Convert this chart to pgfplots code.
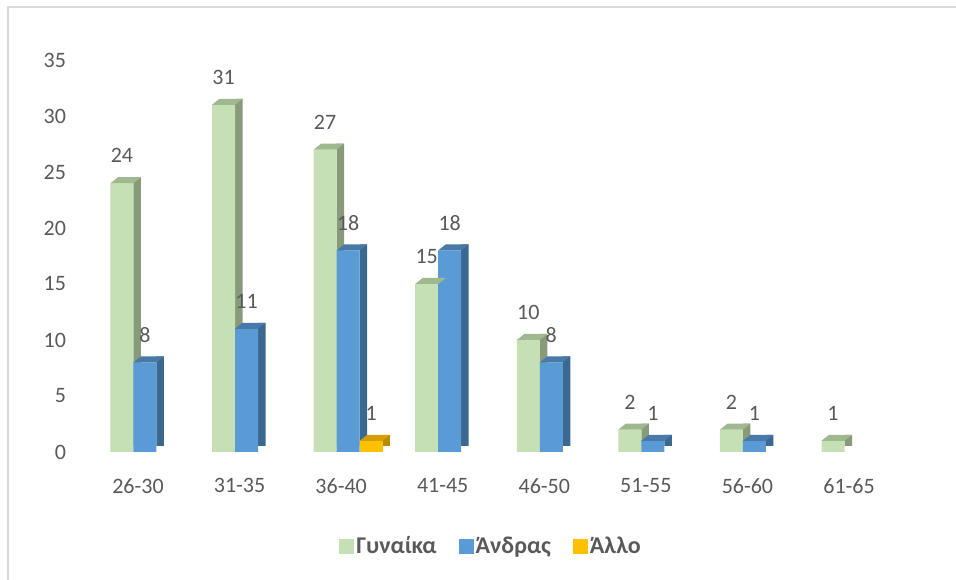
\documentclass[border=0pt]{standalone}
\usepackage{fontspec}
\setmainfont{Carlito}
\usepackage{pgfplots}
\pgfplotsset{compat=1.18}

\definecolor{textgray}{HTML}{595959}
\definecolor{framegray}{HTML}{D9D9D9}
\definecolor{greenfront}{HTML}{C5E0B4}
\definecolor{greenside}{HTML}{879A79}
\definecolor{greentop}{HTML}{A0B88F}
\definecolor{bluefront}{HTML}{5B9BD5}
\definecolor{blueside}{HTML}{3B6891}
\definecolor{bluetop}{HTML}{4879A8}
\definecolor{goldfront}{HTML}{FFC000}
\definecolor{goldside}{HTML}{B88A00}
\definecolor{goldtop}{HTML}{D29E00}

% top face of a pseudo-3D column (front width 23pt, depth 7.5pt x 6pt)
\pgfdeclareplotmark{topface}{%
  \pgfpathmoveto{\pgfpoint{-11.5pt}{0pt}}%
  \pgfpathlineto{\pgfpoint{11.5pt}{0pt}}%
  \pgfpathlineto{\pgfpoint{19pt}{6pt}}%
  \pgfpathlineto{\pgfpoint{-4pt}{6pt}}%
  \pgfpathclose
  \pgfusepathqfill
}

\begin{document}
\begin{tikzpicture}
\path[use as bounding box] (0pt,0pt) rectangle (956pt,580pt);
\draw[framegray, line width=1.5pt] (8pt,0pt) -- (8pt,573pt) -- (956pt,573pt);

\begin{axis}[
  at={(87.2pt,128pt)}, anchor=south west,
  scale only axis, width=812.6pt, height=392pt,
  xmin=-0.5, xmax=7.5, ymin=0, ymax=35,
  clip=false,
  axis line style={draw=none},
  major tick length=0pt,
  xtick={0,...,7},
  xticklabels={26-30,31-35,36-40,41-45,46-50,51-55,56-60,61-65},
  ytick={0,5,...,35},
  /pgf/number format/assume math mode=true,
  tick label style={font=\fontsize{22}{26}\selectfont, text=textgray},
  yticklabel style={anchor=east, inner sep=0pt, xshift=-21pt},
  xticklabel style={anchor=north, inner sep=0pt, yshift=-26pt},
  every node near coord/.append style={font=\fontsize{22}{26}\selectfont,
    text=textgray, anchor=south, inner sep=0pt, yshift=20pt},
  legend image code/.code={\fill[#1] (0pt,-7.5pt) rectangle (15pt,7.5pt);},
  legend style={at={(0.497,-0.2398)}, anchor=center, draw=none, fill=none,
    legend columns=-1, text=textgray,
    font=\fontsize{24}{28}\selectfont\bfseries,
    /tikz/every even column/.append style={column sep=20pt}},
]

% Γυναίκα
\addplot[ybar, forget plot, bar width=7.5pt, bar shift=-0.75pt, yshift=6pt,
  fill=greenside, draw=none]
  coordinates {(0,24) (1,31) (2,27) (3,15) (4,10) (5,2) (6,2) (7,1)};
\addplot[ybar, bar width=23pt, bar shift=-16pt, fill=greenfront, draw=none,
  nodes near coords, every node near coord/.append style={xshift=-16pt}]
  coordinates {(0,24) (1,31) (2,27) (3,15) (4,10) (5,2) (6,2) (7,1)};
\addlegendentry{Γυναίκα}
\addplot[only marks, forget plot, mark=topface,
  mark options={xshift=-16pt, fill=greentop, draw=none}]
  coordinates {(0,24) (1,31) (2,27) (3,15) (4,10) (5,2) (6,2) (7,1)};

% Άνδρας
\addplot[ybar, forget plot, bar width=7.5pt, bar shift=22.25pt, yshift=6pt,
  fill=blueside, draw=none]
  coordinates {(0,8) (1,11) (2,18) (3,18) (4,8) (5,1) (6,1)};
\addplot[ybar, bar width=23pt, bar shift=7pt, fill=bluefront, draw=none,
  nodes near coords, every node near coord/.append style={xshift=7pt}]
  coordinates {(0,8) (1,11) (2,18) (3,18) (4,8) (5,1) (6,1)};
\addlegendentry{Άνδρας}
\addplot[only marks, forget plot, mark=topface,
  mark options={xshift=7pt, fill=bluetop, draw=none}]
  coordinates {(0,8) (1,11) (2,18) (3,18) (4,8) (5,1) (6,1)};

% Άλλο
\addplot[ybar, forget plot, bar width=7.5pt, bar shift=45.25pt, yshift=6pt,
  fill=goldside, draw=none]
  coordinates {(2,1)};
\addplot[ybar, bar width=23pt, bar shift=30pt, fill=goldfront, draw=none,
  nodes near coords, every node near coord/.append style={xshift=30pt}]
  coordinates {(2,1)};
\addlegendentry{Άλλο}
\addplot[only marks, forget plot, mark=topface,
  mark options={xshift=30pt, fill=goldtop, draw=none}]
  coordinates {(2,1)};

\end{axis}
\end{tikzpicture}
\end{document}
